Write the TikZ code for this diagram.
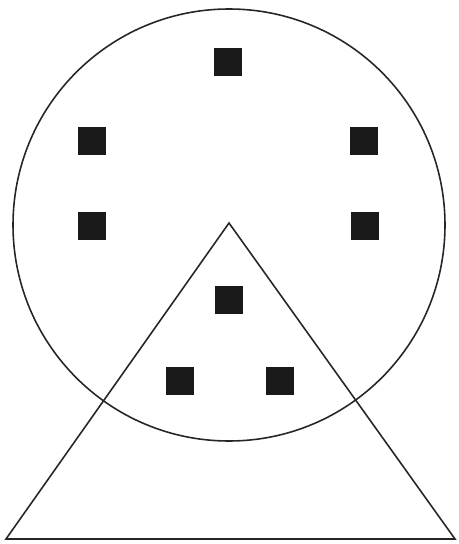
\documentclass[tikz,border=0pt]{standalone}
\usepackage{tikz}
\tikzset{
    dot/.style={fill=black!90, minimum size=0.56cm, inner sep=0pt, rectangle},
    outline/.style={draw=black!85, line width=0.9pt}
}

\begin{document}
\begin{tikzpicture}[x=0.02cm, y=-0.02cm]
    \useasboundingbox (0,0) rectangle (458,544);
    \draw [outline] (229,225) circle (216);
    \coordinate (apex) at (229,223);
    \coordinate (left) at (6,539);
    \coordinate (right) at (455,539);
    \draw [outline, line join=miter] (apex) -- (right) -- (left) -- cycle;
    % squares inside the circle
    \node (top) [dot] at (228,62) {};
    \node (upleft) [dot] at (92,141) {};
    \node (upright) [dot] at (364,141) {};
    \node (midleft) [dot] at (92,226) {};
    \node (midright) [dot] at (365,226) {};
    % squares inside the triangle
    \node (inner) [dot] at (229,300) {};
    \node (lowleft) [dot] at (180,381) {};
    \node (lowright) [dot] at (280,381) {};
\end{tikzpicture}
\end{document}
